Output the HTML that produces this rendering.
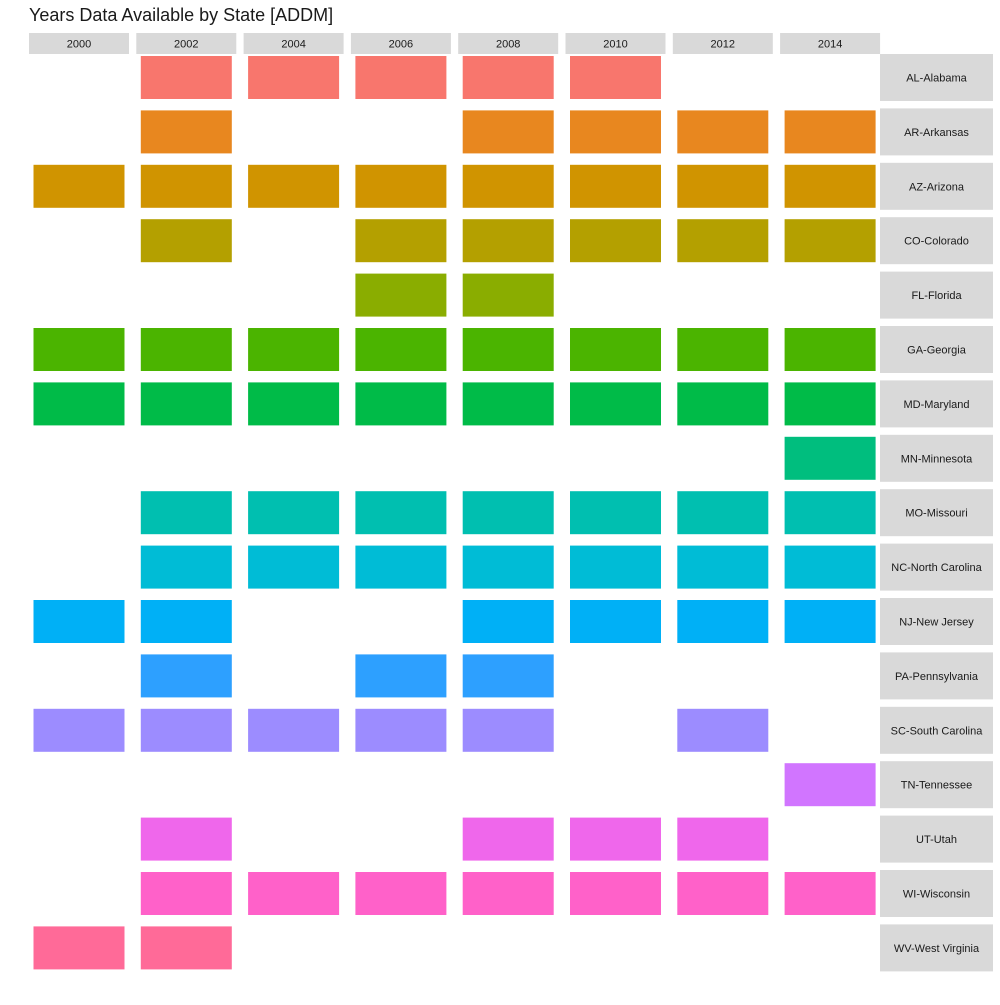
<!DOCTYPE html>
<html><head><meta charset="utf-8"><style>
body{margin:0;background:#fff}
svg text{font-family:"Liberation Sans",sans-serif}
</style></head><body>
<svg id="c" width="1000" height="1000">
<text x="29" y="21" font-size="18" fill="#1a1a1a">Years Data Available by State [ADDM]</text>
</svg>
<script>
const years=[2000,2002,2004,2006,2008,2010,2012,2014];
const states=["AL-Alabama","AR-Arkansas","AZ-Arizona","CO-Colorado","FL-Florida","GA-Georgia","MD-Maryland","MN-Minnesota","MO-Missouri","NC-North Carolina","NJ-New Jersey","PA-Pennsylvania","SC-South Carolina","TN-Tennessee","UT-Utah","WI-Wisconsin","WV-West Virginia"];
const available=[
[2002,2004,2006,2008,2010],
[2002,2008,2010,2012,2014],
[2000,2002,2004,2006,2008,2010,2012,2014],
[2002,2006,2008,2010,2012,2014],
[2006,2008],
[2000,2002,2004,2006,2008,2010,2012,2014],
[2000,2002,2004,2006,2008,2010,2012,2014],
[2014],
[2002,2004,2006,2008,2010,2012,2014],
[2002,2004,2006,2008,2010,2012,2014],
[2000,2002,2008,2010,2012,2014],
[2002,2006,2008],
[2000,2002,2004,2006,2008,2012],
[2014],
[2002,2008,2010,2012],
[2002,2004,2006,2008,2010,2012,2014],
[2000,2002]];
const colors=["#F8766D","#E8871F","#D09400","#B4A000","#8AAD00","#4BB400","#00BB48","#00BE7E","#00BFB0","#00BCD6","#00B0F6","#2DA0FF","#9C8CFF","#D175FF","#EF67EB","#FF61C9","#FF6A98"];
const svg=document.getElementById('c');const NS="http://www.w3.org/2000/svg";
function mk(t,a){const e=document.createElementNS(NS,t);for(const k in a)e.setAttribute(k,a[k]);svg.appendChild(e);return e;}
const colX=i=>29+i*107.3, colW=100, rowY=j=>54+j*54.4, rowH=47;
years.forEach((y,i)=>{
 const r=mk('rect',{x:colX(i),y:33,width:colW,height:21,fill:'#d9d9d9'});
 
 
 const t=mk('text',{x:colX(i)+colW/2,y:47.5,'font-size':11,'text-anchor':'middle',fill:'#1a1a1a'});t.textContent=y;
 
 
});
states.forEach((s,j)=>{
 const r=mk('rect',{x:880,y:rowY(j),width:113,height:rowH,fill:'#d9d9d9'});
 
 
 const t=mk('text',{x:936.5,y:rowY(j)+rowH/2+4,'font-size':11,'text-anchor':'middle',fill:'#1a1a1a'});t.textContent=s;
 
 
 available[j].forEach(y=>{
  const i=years.indexOf(y);
  const b=mk('rect',{x:colX(i)+4.5,y:rowY(j)+2,width:91,height:43,fill:colors[j]});
  
  
 });
});
</script>
</body></html>
